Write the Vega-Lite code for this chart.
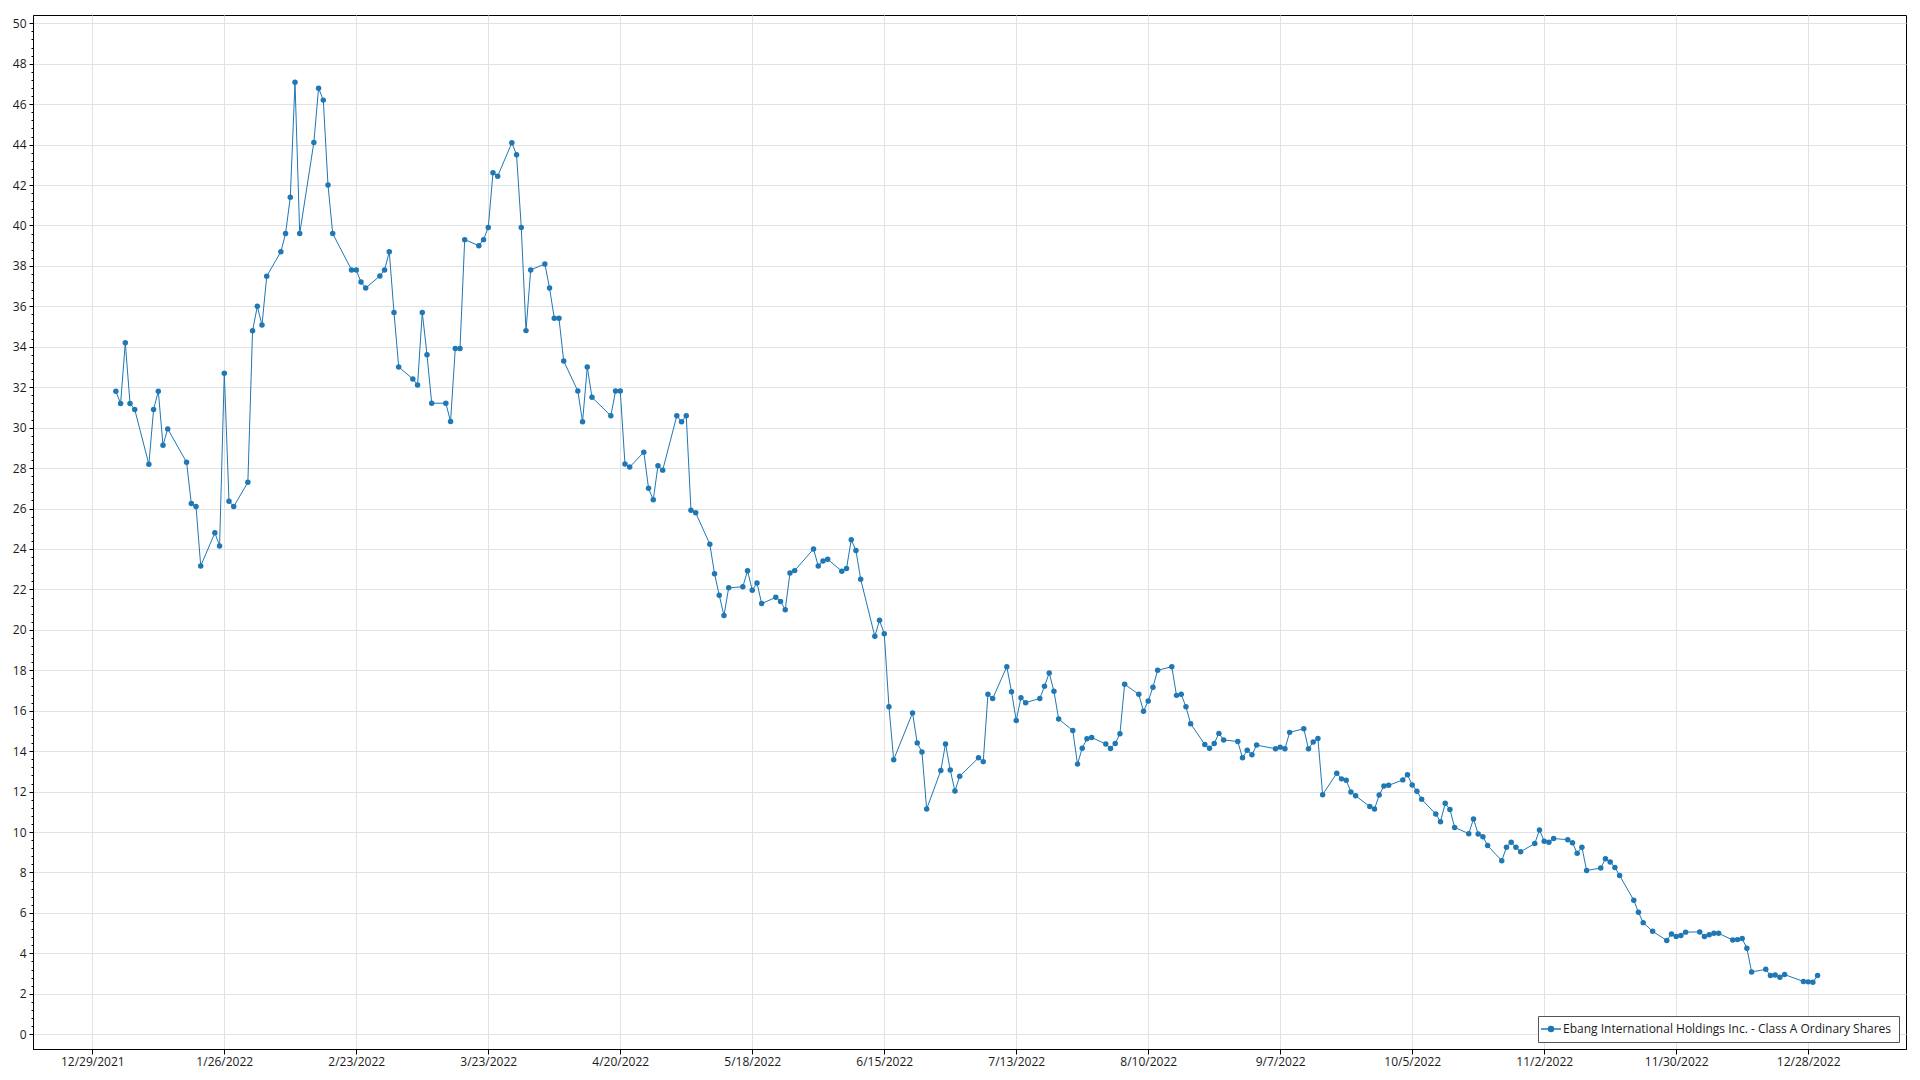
{
  "$schema": "https://vega.github.io/schema/vega-lite/v6.json",
  "width": 1873,
  "height": 1034,
  "autosize": {"type": "none"},
  "padding": {"left": 33, "top": 15, "right": 14, "bottom": 31},
  "background": "white",
  "config": {
    "view": {"stroke": "#000000", "strokeWidth": 1},
    "font": "Open Sans",
    "axis": {"labelFont": "Open Sans", "labelFontSize": 12, "labelColor": "#1a1a1a", "domainColor": "#000000", "tickColor": "#000000", "gridColor": "#e2e2e2", "gridWidth": 1}
  },
  "data": {"values": [
{"d":"2022-01-03","v":31.8},{"d":"2022-01-04","v":31.19},{"d":"2022-01-05","v":34.2},{"d":"2022-01-06","v":31.2},{"d":"2022-01-07","v":30.9},
{"d":"2022-01-10","v":28.19},{"d":"2022-01-11","v":30.9},{"d":"2022-01-12","v":31.8},{"d":"2022-01-13","v":29.13},{"d":"2022-01-14","v":29.94},
{"d":"2022-01-18","v":28.29},{"d":"2022-01-19","v":26.25},{"d":"2022-01-20","v":26.1},{"d":"2022-01-21","v":23.16},
{"d":"2022-01-24","v":24.8},{"d":"2022-01-25","v":24.15},{"d":"2022-01-26","v":32.69},{"d":"2022-01-27","v":26.36},{"d":"2022-01-28","v":26.1},
{"d":"2022-01-31","v":27.3},{"d":"2022-02-01","v":34.79},{"d":"2022-02-02","v":36.0},{"d":"2022-02-03","v":35.08},{"d":"2022-02-04","v":37.49},
{"d":"2022-02-07","v":38.7},{"d":"2022-02-08","v":39.6},{"d":"2022-02-09","v":41.4},{"d":"2022-02-10","v":47.09},{"d":"2022-02-11","v":39.6},
{"d":"2022-02-14","v":44.1},{"d":"2022-02-15","v":46.79},{"d":"2022-02-16","v":46.2},{"d":"2022-02-17","v":42.0},{"d":"2022-02-18","v":39.6},
{"d":"2022-02-22","v":37.8},{"d":"2022-02-23","v":37.8},{"d":"2022-02-24","v":37.2},{"d":"2022-02-25","v":36.91},
{"d":"2022-02-28","v":37.5},{"d":"2022-03-01","v":37.8},{"d":"2022-03-02","v":38.7},{"d":"2022-03-03","v":35.7},{"d":"2022-03-04","v":33.0},
{"d":"2022-03-07","v":32.41},{"d":"2022-03-08","v":32.11},{"d":"2022-03-09","v":35.7},{"d":"2022-03-10","v":33.61},{"d":"2022-03-11","v":31.21},
{"d":"2022-03-14","v":31.21},{"d":"2022-03-15","v":30.3},{"d":"2022-03-16","v":33.91},{"d":"2022-03-17","v":33.91},{"d":"2022-03-18","v":39.3},
{"d":"2022-03-21","v":39.0},{"d":"2022-03-22","v":39.3},{"d":"2022-03-23","v":39.9},{"d":"2022-03-24","v":42.61},{"d":"2022-03-25","v":42.44},
{"d":"2022-03-28","v":44.09},{"d":"2022-03-29","v":43.5},{"d":"2022-03-30","v":39.9},{"d":"2022-03-31","v":34.8},{"d":"2022-04-01","v":37.8},
{"d":"2022-04-04","v":38.1},{"d":"2022-04-05","v":36.91},{"d":"2022-04-06","v":35.41},{"d":"2022-04-07","v":35.41},{"d":"2022-04-08","v":33.3},
{"d":"2022-04-11","v":31.81},{"d":"2022-04-12","v":30.29},{"d":"2022-04-13","v":33.0},{"d":"2022-04-14","v":31.5},
{"d":"2022-04-18","v":30.59},{"d":"2022-04-19","v":31.81},{"d":"2022-04-20","v":31.81},{"d":"2022-04-21","v":28.2},{"d":"2022-04-22","v":28.05},
{"d":"2022-04-25","v":28.79},{"d":"2022-04-26","v":27.0},{"d":"2022-04-27","v":26.43},{"d":"2022-04-28","v":28.12},{"d":"2022-04-29","v":27.9},
{"d":"2022-05-02","v":30.59},{"d":"2022-05-03","v":30.29},{"d":"2022-05-04","v":30.59},{"d":"2022-05-05","v":25.92},{"d":"2022-05-06","v":25.79},
{"d":"2022-05-09","v":24.24},{"d":"2022-05-10","v":22.77},{"d":"2022-05-11","v":21.71},{"d":"2022-05-12","v":20.71},{"d":"2022-05-13","v":22.08},
{"d":"2022-05-16","v":22.13},{"d":"2022-05-17","v":22.92},{"d":"2022-05-18","v":21.96},{"d":"2022-05-19","v":22.32},{"d":"2022-05-20","v":21.3},
{"d":"2022-05-23","v":21.61},{"d":"2022-05-24","v":21.4},{"d":"2022-05-25","v":21.0},{"d":"2022-05-26","v":22.81},{"d":"2022-05-27","v":22.93},
{"d":"2022-05-31","v":24.0},{"d":"2022-06-01","v":23.16},{"d":"2022-06-02","v":23.41},{"d":"2022-06-03","v":23.49},
{"d":"2022-06-06","v":22.9},{"d":"2022-06-07","v":23.04},{"d":"2022-06-08","v":24.46},{"d":"2022-06-09","v":23.92},{"d":"2022-06-10","v":22.5},
{"d":"2022-06-13","v":19.68},{"d":"2022-06-14","v":20.47},{"d":"2022-06-15","v":19.81},{"d":"2022-06-16","v":16.2},{"d":"2022-06-17","v":13.58},
{"d":"2022-06-21","v":15.89},{"d":"2022-06-22","v":14.41},{"d":"2022-06-23","v":13.96},{"d":"2022-06-24","v":11.14},
{"d":"2022-06-27","v":13.04},{"d":"2022-06-28","v":14.36},{"d":"2022-06-29","v":13.07},{"d":"2022-06-30","v":12.03},{"d":"2022-07-01","v":12.76},
{"d":"2022-07-05","v":13.67},{"d":"2022-07-06","v":13.48},{"d":"2022-07-07","v":16.81},{"d":"2022-07-08","v":16.6},
{"d":"2022-07-11","v":18.18},{"d":"2022-07-12","v":16.94},{"d":"2022-07-13","v":15.52},{"d":"2022-07-14","v":16.64},{"d":"2022-07-15","v":16.4},
{"d":"2022-07-18","v":16.61},{"d":"2022-07-19","v":17.21},{"d":"2022-07-20","v":17.87},{"d":"2022-07-21","v":16.96},{"d":"2022-07-22","v":15.59},
{"d":"2022-07-25","v":15.02},{"d":"2022-07-26","v":13.36},{"d":"2022-07-27","v":14.15},{"d":"2022-07-28","v":14.61},{"d":"2022-07-29","v":14.68},
{"d":"2022-08-01","v":14.35},{"d":"2022-08-02","v":14.13},{"d":"2022-08-03","v":14.38},{"d":"2022-08-04","v":14.86},{"d":"2022-08-05","v":17.31},
{"d":"2022-08-08","v":16.81},{"d":"2022-08-09","v":15.98},{"d":"2022-08-10","v":16.48},{"d":"2022-08-11","v":17.16},{"d":"2022-08-12","v":18.0},
{"d":"2022-08-15","v":18.18},{"d":"2022-08-16","v":16.76},{"d":"2022-08-17","v":16.81},{"d":"2022-08-18","v":16.2},{"d":"2022-08-19","v":15.36},
{"d":"2022-08-22","v":14.33},{"d":"2022-08-23","v":14.15},{"d":"2022-08-24","v":14.38},{"d":"2022-08-25","v":14.88},{"d":"2022-08-26","v":14.55},
{"d":"2022-08-29","v":14.48},{"d":"2022-08-30","v":13.67},{"d":"2022-08-31","v":14.05},{"d":"2022-09-01","v":13.82},{"d":"2022-09-02","v":14.3},
{"d":"2022-09-06","v":14.12},{"d":"2022-09-07","v":14.2},{"d":"2022-09-08","v":14.12},{"d":"2022-09-09","v":14.93},
{"d":"2022-09-12","v":15.11},{"d":"2022-09-13","v":14.12},{"d":"2022-09-14","v":14.45},{"d":"2022-09-15","v":14.63},{"d":"2022-09-16","v":11.85},
{"d":"2022-09-19","v":12.91},{"d":"2022-09-20","v":12.63},{"d":"2022-09-21","v":12.56},{"d":"2022-09-22","v":11.98},{"d":"2022-09-23","v":11.79},
{"d":"2022-09-26","v":11.26},{"d":"2022-09-27","v":11.14},{"d":"2022-09-28","v":11.83},{"d":"2022-09-29","v":12.28},{"d":"2022-09-30","v":12.31},
{"d":"2022-10-03","v":12.58},{"d":"2022-10-04","v":12.83},{"d":"2022-10-05","v":12.33},{"d":"2022-10-06","v":12.02},{"d":"2022-10-07","v":11.62},
{"d":"2022-10-10","v":10.89},{"d":"2022-10-11","v":10.51},{"d":"2022-10-12","v":11.42},{"d":"2022-10-13","v":11.12},{"d":"2022-10-14","v":10.23},
{"d":"2022-10-17","v":9.92},{"d":"2022-10-18","v":10.65},{"d":"2022-10-19","v":9.9},{"d":"2022-10-20","v":9.77},{"d":"2022-10-21","v":9.33},
{"d":"2022-10-24","v":8.58},{"d":"2022-10-25","v":9.25},{"d":"2022-10-26","v":9.5},{"d":"2022-10-27","v":9.25},{"d":"2022-10-28","v":9.03},
{"d":"2022-10-31","v":9.43},{"d":"2022-11-01","v":10.1},{"d":"2022-11-02","v":9.55},{"d":"2022-11-03","v":9.5},{"d":"2022-11-04","v":9.68},
{"d":"2022-11-07","v":9.62},{"d":"2022-11-08","v":9.47},{"d":"2022-11-09","v":8.95},{"d":"2022-11-10","v":9.25},{"d":"2022-11-11","v":8.1},
{"d":"2022-11-14","v":8.22},{"d":"2022-11-15","v":8.68},{"d":"2022-11-16","v":8.52},{"d":"2022-11-17","v":8.25},{"d":"2022-11-18","v":7.85},
{"d":"2022-11-21","v":6.63},{"d":"2022-11-22","v":6.03},{"d":"2022-11-23","v":5.52},{"d":"2022-11-25","v":5.09},
{"d":"2022-11-28","v":4.64},{"d":"2022-11-29","v":4.96},{"d":"2022-11-30","v":4.84},{"d":"2022-12-01","v":4.88},{"d":"2022-12-02","v":5.05},
{"d":"2022-12-05","v":5.06},{"d":"2022-12-06","v":4.83},{"d":"2022-12-07","v":4.92},{"d":"2022-12-08","v":4.99},{"d":"2022-12-09","v":4.99},
{"d":"2022-12-12","v":4.66},{"d":"2022-12-13","v":4.68},{"d":"2022-12-14","v":4.73},{"d":"2022-12-15","v":4.25},{"d":"2022-12-16","v":3.08},
{"d":"2022-12-19","v":3.21},{"d":"2022-12-20","v":2.9},{"d":"2022-12-21","v":2.93},{"d":"2022-12-22","v":2.82},{"d":"2022-12-23","v":2.95},
{"d":"2022-12-27","v":2.61},{"d":"2022-12-28","v":2.59},{"d":"2022-12-29","v":2.57},{"d":"2022-12-30","v":2.9}
  ]},
  "encoding": {
    "x": {
      "field": "d", "type": "temporal",
      "scale": {"type": "utc", "domain": [{"year": 2021, "month": 12, "date": 16, "hours": 10, "minutes": 4, "utc": true}, {"year": 2023, "month": 1, "date": 17, "hours": 18, "minutes": 4, "utc": true}]},
      "axis": {
        "title": null,
        "values": ["2021-12-29","2022-01-26","2022-02-23","2022-03-23","2022-04-20","2022-05-18","2022-06-15","2022-07-13","2022-08-10","2022-09-07","2022-10-05","2022-11-02","2022-11-30","2022-12-28"],
        "labelExpr": "utcFormat(datum.value, '%-m/%-d/%Y')",
        "tickSize": 5, "labelPadding": 2, "labelFlush": false, "labelOverlap": false, "grid": true
      }
    },
    "color": {
      "datum": "Ebang International Holdings Inc. - Class A Ordinary Shares",
      "type": "nominal",
      "scale": {"range": ["#1f77b4"]},
      "legend": {
        "title": null,
        "orient": "bottom-right",
        "offset": 7,
        "padding": 7,
        "fillColor": "#ffffff",
        "strokeColor": "#555555",
        "symbolType": "M-2,0H2M0.5,0A0.5,0.5,0,1,1,-0.5,0A0.5,0.5,0,1,1,0.5,0",
        "symbolSize": 100,
        "symbolStrokeWidth": 1.5,
        "symbolFillColor": "#1f77b4",
        "symbolStrokeColor": "#1f77b4",
        "labelFont": "Open Sans",
        "labelFontSize": 12,
        "labelColor": "#1a1a1a",
        "labelOffset": 6,
        "labelLimit": 0
      }
    }
  },
  "layer": [
    {
      "mark": {"type": "line", "strokeWidth": 1, "color": "#1f77b4"},
      "encoding": {
        "y": {
          "field": "v", "type": "quantitative",
          "scale": {"domain": [-0.73, 50.41], "nice": false, "zero": false},
          "axis": {
            "title": null,
            "values": [0,2,4,6,8,10,12,14,16,18,20,22,24,26,28,30,32,34,36,38,40,42,44,46,48,50],
            "tickSize": 4, "labelPadding": 3, "grid": true
          }
        }
      }
    },
    {
      "mark": {"type": "point", "filled": true, "size": 30, "opacity": 1, "color": "#1f77b4"},
      "encoding": {
        "y": {
          "field": "v", "type": "quantitative",
          "axis": {
            "title": null, "orient": "left",
            "values": [0.4,0.8,1.2,1.6,2.4,2.8,3.2,3.6,4.4,4.8,5.2,5.6,6.4,6.8,7.2,7.6,8.4,8.8,9.2,9.6,10.4,10.8,11.2,11.6,12.4,12.8,13.2,13.6,14.4,14.8,15.2,15.6,16.4,16.8,17.2,17.6,18.4,18.8,19.2,19.6,20.4,20.8,21.2,21.6,22.4,22.8,23.2,23.6,24.4,24.8,25.2,25.6,26.4,26.8,27.2,27.6,28.4,28.8,29.2,29.6,30.4,30.8,31.2,31.6,32.4,32.8,33.2,33.6,34.4,34.8,35.2,35.6,36.4,36.8,37.2,37.6,38.4,38.8,39.2,39.6,40.4,40.8,41.2,41.6,42.4,42.8,43.2,43.6,44.4,44.8,45.2,45.6,46.4,46.8,47.2,47.6,48.4,48.8,49.2,49.6],
            "labels": false, "grid": false, "domain": false, "tickSize": 2
          }
        }
      }
    }
  ],
  "resolve": {"axis": {"y": "independent"}}
}
